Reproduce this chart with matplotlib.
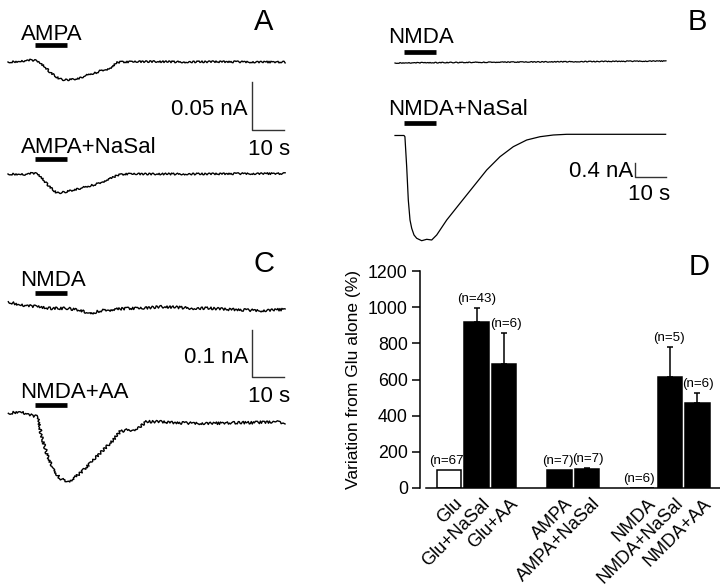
import numpy as np
import matplotlib
matplotlib.use('Agg')
import matplotlib.pyplot as plt
import matplotlib.transforms as mtransforms

plt.rcParams['font.family'] = ['Liberation Sans', 'DejaVu Sans']

W, H = 720, 588

# ---- A: AMPA traces, time (s) / current (nA) ----
a1_t = [0, 3.75, 6.9, 8.4, 10, 11.6, 13.1, 14.7, 16.25, 17.8, 19.4, 20.9, 22.5, 24.1,
        25.6, 27.2, 28.75, 30.3, 31.9, 32.8, 33.75, 35, 45, 55, 65, 75, 86.6]
a1_i = [0, 0.0005, 0.002, 0.0016, -0.001, -0.0052, -0.0104, -0.0146, -0.0177, -0.0188,
        -0.0182, -0.0177, -0.0167, -0.0146, -0.0125, -0.0115, -0.0094, -0.0083, -0.0063,
        -0.0052, -0.001, 0, 0.0005, 0, 0.0003, 0, 0]
a2_t = [0, 5.3, 7.8, 9.1, 10.6, 12.2, 13.75, 15.3, 16.9, 18.4, 20.3, 22.5, 24.7, 26.6,
        28.75, 30.9, 32.8, 34.4, 36.6, 48, 60, 72, 86.6]
a2_i = [0, -0.0005, 0.001, 0, -0.0042, -0.0104, -0.0156, -0.0198, -0.0193, -0.0182,
        -0.0167, -0.0151, -0.013, -0.0115, -0.0094, -0.0063, -0.0036, -0.001, 0, 0,
        0, 0.0003, 0.0005]
ampa_app = (8.4, 18.4)

# ---- B: NMDA traces ----
b1_t = [0, 17.7, 43.5, 66, 87.4]
b1_i = [0, 0.014, 0.029, 0.043, 0.057]
b2_t = [0, 2.9, 3.2, 3.77, 4.29, 4.84, 5.39, 6.13, 7.0, 8.61, 10.23, 11.84, 13.45, 16.68,
        20.97, 25.26, 29.58, 33.87, 38.16, 42.48, 46.77, 51.06, 55.4, 87.3]
b2_i = [-0.034, -0.034, -0.069, -0.926, -1.877, -2.449, -2.686, -2.877, -2.971, -3.04,
        -3.0, -3.02, -2.877, -2.449, -1.971, -1.497, -1.02, -0.64, -0.354, -0.163,
        -0.069, -0.02, 0, 0]
nmda_app_b = (2.9, 13.2)

# ---- C: NMDA traces with AA ----
c1_t = [0.1, 3.75, 8.95, 13.1, 18.3, 22.5, 25.6, 28.75, 31.9, 37.1, 42.3, 47.5, 52.7,
        57.9, 63.1, 68.3, 73.5, 78.75, 86.6]
c1_i = [0.014, 0.007, 0.0036, 0, 0, -0.0036, -0.0121, -0.0051, -0.0036, 0, 0, 0.0034,
        0.0021, 0, 0, -0.0021, -0.0036, -0.0051, -0.0021]
c2_t = [0.1, 3.75, 6.9, 9.0, 9.5, 10.5, 12.1, 14.2, 16.25, 18.3, 19.9, 22.5, 24.6, 26.7,
        28.75, 30.8, 32.9, 35, 37.1, 39.2, 41.25, 43.3, 47.5, 51.7, 57.9, 64.2, 70.4,
        76.7, 82.9, 86.6]
c2_i = [0.020, 0.0234, 0.0164, 0.0128, 0.0057, -0.0298, -0.0651, -0.1006, -0.1183,
        -0.1255, -0.122, -0.1077, -0.0936, -0.0794, -0.0651, -0.0511, -0.0368, -0.0191,
        -0.0155, -0.0155, -0.0085, 0.0021, 0.0021, 0, -0.0013, -0.0013, 0, 0, 0.0021, 0]
nmda_app_c = (8.4, 18.4)

# ---- D: summary bars ----
conds = ['Glu', 'Glu+NaSal', 'Glu+AA', 'AMPA', 'AMPA+NaSal', 'NMDA', 'NMDA+NaSal', 'NMDA+AA']
means = [100, 920, 686, 100, 105, 0, 616, 472]
err_up = [0, 77, 173, 0, 3, 0, 165, 51]
n_cells = [67, 43, 6, 7, 7, 6, 5, 6]
group_sizes = [3, 2, 3]

fig = plt.figure(figsize=(W / 100, H / 100), dpi=100)


def px_axes(left, top, width, height):
    return fig.add_axes([left / W, 1 - (top + height) / H, width / W, height / H])


def trace_axes(x0, y0, sx, sy, tlim, ilim):
    # x0, y0: pixel of t=0 / I=0 ; sx, sy: pixels per s and per nA
    ax = px_axes(x0 + tlim[0] * sx, y0 - ilim[1] * sy,
                 (tlim[1] - tlim[0]) * sx, (ilim[1] - ilim[0]) * sy)
    ax.set_xlim(tlim)
    ax.set_ylim(ilim)
    ax.axis('off')
    return ax


def trace(x0, y0, sx, sy, ilim, t, i, app, app_level, noise=1.0, lw=1.0):
    ax = trace_axes(x0, y0, sx, sy, (-1, 89), ilim)
    ln, = ax.plot(t, i, color='k', lw=lw)
    if noise:
        ln.set_sketch_params(noise, 2.5, 3)
    ax.plot(app, [app_level, app_level], color='k', lw=3.4, solid_capstyle='butt')
    return ax


def scale_bar(cx, cy, sx, sy, tlen, ilen):
    ax = trace_axes(cx, cy, sx, sy, (0, tlen), (0, ilen))
    ax.plot([0, 0, tlen], [ilen, 0, 0], color='#333333', lw=1.0, clip_on=False)


def txt(x, y, s, size=16, ha='left'):
    fig.text(x / W, 1 - y / H, s, fontsize=size, ha=ha, va='baseline')


# A
trace(8, 62, 3.2, 960, (-0.03, 0.03), a1_t, a1_i, ampa_app, 0.0177, noise=0.9)
trace(8, 174, 3.2, 960, (-0.03, 0.03), a2_t, a2_i, ampa_app, 0.0156, noise=0.9)
scale_bar(252, 130, 3.2, 960, 10, 0.05)
txt(21, 39.5, 'AMPA')
txt(21, 153, 'AMPA+NaSal')
txt(248, 115, '0.05 nA', ha='right')
txt(248, 155, '10 s')
txt(264, 30, 'A', size=21, ha='center')

# B
trace(395, 63, 3.1, 35, (-0.2, 0.45), b1_t, b1_i, nmda_app_b, 0.314, noise=0.4, lw=0.9)
trace(395, 134.3, 3.1, 35, (-3.2, 0.45), b2_t, b2_i, nmda_app_b, 0.323, noise=0, lw=0.9)
scale_bar(635, 177, 3.1, 35, 10, 0.4)
txt(388, 43, 'NMDA')
txt(388, 115, 'NMDA+NaSal')
txt(633, 177, '0.4 nA', ha='right')
txt(628, 200, '10 s')
txt(697, 30, 'B', size=21, ha='center')

# C
trace(8, 308.3, 3.2, 470, (-0.03, 0.045), c1_t, c1_i, nmda_app_c, 0.0336, noise=1.3)
trace(8, 422.7, 3.2, 470, (-0.14, 0.05), c2_t, c2_i, nmda_app_c, 0.0377, noise=1.3)
scale_bar(252, 377, 3.2, 470, 10, 0.1)
txt(20, 285.5, 'NMDA')
txt(20, 398.5, 'NMDA+AA')
txt(248, 363, '0.1 nA', ha='right')
txt(248, 402, '10 s')
txt(264, 272, 'C', size=21, ha='center')

# D
pos = []
p = 0
for g in group_sizes:
    for k in range(g):
        pos.append(p)
        p += 1
    p += 1

ax = px_axes(420, 271, 300, 217)
face = ['white'] + ['black'] * (len(conds) - 1)
ax.bar(pos, means, width=0.88, color=face, edgecolor='black', linewidth=1.1, zorder=2)
has_err = [k for k in range(len(conds)) if err_up[k] > 0]
ax.errorbar([pos[k] for k in has_err], [means[k] for k in has_err],
            yerr=[[0] * len(has_err), [err_up[k] for k in has_err]],
            fmt='none', ecolor='black', elinewidth=1.1, capsize=2.5, capthick=1.1, zorder=1)
x_shift = [0, 0, 0.07, -0.04, 0.04, -0.12, -0.04, 0.02]
for k in range(len(conds)):
    ax.text(pos[k] + x_shift[k], means[k] + err_up[k] + 50, '(n=%d)' % n_cells[k],
            ha='center', va='center', fontsize=9.6)

ax.set_xlim(-1.05, 9.82)
ax.set_ylim(0, 1200)
ax.set_yticks(np.arange(0, 1201, 200))
ax.set_xticks(pos)
ax.set_xticklabels(conds)
for s in ['top', 'right']:
    ax.spines[s].set_visible(False)
for s in ['left', 'bottom']:
    ax.spines[s].set_linewidth(1.1)
ax.spines['bottom'].set_bounds(-0.83, 9.82)
ax.tick_params(axis='y', length=5.8, width=1.1, labelsize=12.8, pad=3)
ax.tick_params(axis='x', length=0, labelsize=13.1, pad=5)
off = mtransforms.ScaledTranslation(5 / 100, 0, fig.dpi_scale_trans)
for lbl in ax.get_xticklabels():
    lbl.set_rotation(45)
    lbl.set_ha('right')
    lbl.set_va('top')
    lbl.set_rotation_mode('anchor')
    lbl.set_transform(lbl.get_transform() + off)
ax.set_ylabel('Variation from Glu alone (%)', fontsize=12.5, labelpad=5)
txt(699, 275, 'D', size=21, ha='center')

fig.savefig('out.png', dpi=100)
